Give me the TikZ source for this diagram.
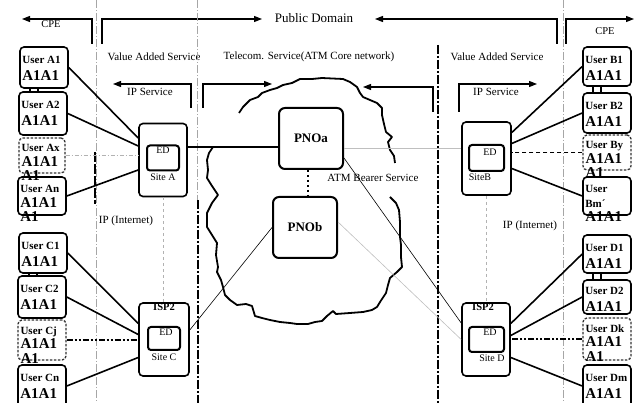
\documentclass[tikz,border=0pt]{standalone}
\usepackage{fontspec}
\setmainfont{Liberation Serif}
\usetikzlibrary{arrows.meta,positioning}
\newcommand{\ulbl}[1]{{\fontsize{11}{12}\selectfont #1}}

\begin{document}
\begin{tikzpicture}[
  x=1pt, y=-1pt,
  >={Triangle[length=8pt,width=6pt]},
  userbox/.style={draw,line width=1.6pt,rounded corners=4pt,minimum width=48pt,
                  minimum height=40pt,inner sep=0pt},
  userdot/.style={userbox,line width=1.3pt,dash pattern=on 2.5pt off 1.5pt,draw=black!80},
  utxt/.style={anchor=north west,xshift=3pt,yshift=-10pt,inner sep=0pt,align=left,
               minimum width=0pt,minimum height=0pt,
               font=\bfseries\fontsize{15}{16.5}\selectfont},
  utxtiii/.style={utxt,yshift=3pt,font=\bfseries\fontsize{15}{14.5}\selectfont},
  sitebox/.style={draw,line width=1.6pt,rounded corners=4pt,minimum width=48pt,
                  minimum height=73pt},
  edbox/.style={draw,line width=2pt,rounded corners=3pt,minimum width=32pt,
                minimum height=25pt},
  pnobox/.style={draw,line width=2pt,rounded corners=6pt,minimum width=64pt,
                 minimum height=61pt,font=\bfseries\fontsize{13}{15}\selectfont},
  lbl/.style={font=\fontsize{11}{13}\selectfont,inner sep=1pt},
  stxt/.style={font=\fontsize{10}{12}\selectfont,inner sep=0pt},
  isptxt/.style={font=\bfseries\fontsize{10.5}{12}\selectfont,inner sep=0pt},
  bracket/.style={->,line width=1.2pt},
  uline/.style={line width=1.6pt},
  thinline/.style={line width=0.6pt},
  greyline/.style={line width=0.6pt,gray!50},
  lightdash/.style={line width=0.6pt,gray!60,dash pattern=on 4pt off 2pt on 1pt off 2pt},
  divthin/.style={line width=0.5pt,gray!70,dash pattern=on 8pt off 2pt on 1pt off 2pt},
  divthick/.style={line width=2.2pt,dash pattern=on 9pt off 2pt on 2pt off 2pt},
  dashdot/.style={line width=2pt,dash pattern=on 6pt off 2pt on 2pt off 2pt on 2pt off 2pt},
  cloudline/.style={line width=1.8pt,line join=round},
]
\useasboundingbox (0,0) rectangle (641,403);

% domain brackets
\draw[bracket] (92,44) -- (92,19) -- (22,19);
\draw[bracket] (102,44) -- (102,19) -- (262,19);
\draw[bracket] (557,44) -- (557,19) -- (375,19);
\draw[bracket] (566,44) -- (566,19) -- (634,19);
\draw[bracket] (191,108) -- (191,84) -- (113,84);
\draw[bracket] (203,108) -- (203,84) -- (272,84);
\draw[bracket] (433,112) -- (433,87) -- (363,87);
\draw[bracket] (459,112) -- (459,84) -- (537,84);

\node[lbl,font=\fontsize{10.5}{12}\selectfont] (tCPEl) at (51,24) {CPE};
\node[lbl,font=\fontsize{10.5}{12}\selectfont] (tCPEr) at (605,31) {CPE};
\node[lbl,font=\fontsize{13}{15}\selectfont] (tPub) at (314,18) {Public Domain};
\node[lbl] (tVASl) at (154,57) {Value Added Service};
\node[lbl] (tTel) at (309,57) {Telecom. Service(ATM Core network)};
\node[lbl] (tVASr) at (497,57) {Value Added Service};
\node[lbl] (tIPSl) at (150,92) {IP Service};
\node[lbl] (tIPSr) at (496,92) {IP Service};
\node[lbl] (tIPl) at (126,221) {IP (Internet)};
\node[lbl] (tIPr) at (530,226) {IP (Internet)};
\node[lbl] (tATM) at (373,178) {ATM Bearer Service};

% domain borders
\draw[divthin] (96,0) -- (96,403);
\draw[line width=2pt,dash pattern=on 10pt off 2pt] (95,152) -- (95,204);
\draw[divthin] (197,0) -- (197,200);
\draw[divthick] (198,200) -- (198,403);
\draw[divthick] (438,45) -- (438,403);
\draw[divthin] (563,0) -- (563,403);

% ATM core cloud
\draw[cloudline] (239,113) -- (243,107) -- (250,100) -- (258,97) -- (262,93)
  -- (270,90) -- (277,88) -- (283,85) -- (292,83) -- (300,79) -- (312,79)
  -- (322,78) -- (343,79) -- (350,82) -- (357,87) -- (360,93) -- (363,97)
  -- (370,100) -- (377,103) -- (382,108) -- (382,115) -- (384,124) -- (386,132)
  -- (392,137) -- (388,142) -- (390,150) -- (394,156) -- (395,163);
\draw[cloudline] (213,147) -- (209,153) -- (207,160) -- (208,170) -- (207,178)
  -- (212,186) -- (218,195) -- (212,203) -- (207,213) -- (207,227) -- (212,235)
  -- (217,243) -- (216,255) -- (218,267) -- (217,272) -- (221,280) -- (223,287)
  -- (225,295) -- (230,300) -- (237,305) -- (246,304) -- (252,306) -- (255,316)
  -- (262,318) -- (270,320) -- (280,322) -- (290,323) -- (297,324) -- (308,324)
  -- (315,322) -- (322,321) -- (327,316) -- (333,311) -- (336,314) -- (350,313)
  -- (363,312) -- (372,310) -- (377,307) -- (380,302) -- (386,293) -- (388,285)
  -- (390,278) -- (397,272) -- (402,267) -- (401,257) -- (401,245) -- (400,237)
  -- (400,222) -- (399,210) -- (396,203) -- (390,197);

% core nodes
\node[pnobox] (pA) at (311,138.5) {PNOa};
\node[pnobox] (pB) at (305,227.5) {PNOb};

% sites
\node[sitebox] (sA) at (163,160) {};
\node[edbox] (edA) at (163,158) {};
\node[stxt,anchor=north,yshift=-2pt] (tEDa) at (edA.north) {ED};
\node[stxt,below=2pt of edA] (tSA) {Site A};

\node[sitebox,minimum width=50pt] (sC) at (164,339.5) {};
\node[edbox,minimum height=23pt] (edC) at (164,338.5) {};
\node[isptxt] (tISPc) at (164,307) {ISP2};
\node[stxt] (tEDc) at (166,332) {ED};
\node[stxt,below=3pt of edC] (tSC) {Site C};

\node[sitebox,minimum width=49pt] (sB) at (486.5,158.5) {};
\node[edbox,minimum width=35pt,minimum height=26pt] (edB) at (486.5,158) {};
\node[stxt] (tEDb) at (490,152) {ED};
\node[stxt] (tSB) at (480,177) {SiteB};

\node[sitebox] (sD) at (486,339.5) {};
\node[edbox,minimum width=35pt] (edD) at (486.5,339.5) {};
\node[isptxt] (tISPd) at (483,307) {ISP2};
\node[stxt] (tEDd) at (490,332) {ED};
\node[stxt] (tSD) at (492,358) {Site D};

% users, left
\node[userbox,minimum height=41pt,label={[utxt]north west:{\ulbl{User A1}\\A1A1}}] (uA1) at (44,67.5) {};
\node[userbox,minimum height=43pt,label={[utxt]north west:{\ulbl{User A2}\\A1A1}}] (uA2) at (43,113.5) {};
\node[userdot,minimum width=46pt,minimum height=35pt,label={[utxtiii]north west:{\ulbl{User Ax}\\A1A1\\A1}}] (uAx) at (42,155.5) {};
\node[userbox,minimum height=38pt,label={[utxtiii,yshift=-2pt]north west:{\ulbl{User An}\\A1A1\\A1}}] (uAn) at (42,196) {};
\node[userbox,label={[utxt]north west:{\ulbl{User C1}\\A1A1}}] (uC1) at (43,253) {};
\node[userbox,minimum height=42pt,label={[utxt]north west:{\ulbl{User C2}\\A1A1}}] (uC2) at (42,297) {};
\node[userdot,label={[utxtiii]north west:{\ulbl{User Cj}\\A1A1\\A1}}] (uCj) at (42,340) {};
\node[userbox,minimum height=42pt,label={[utxt]north west:{\ulbl{User Cn}\\A1A1}}] (uCn) at (42,386) {};

% users, right
\node[userbox,minimum height=39pt,label={[utxt]north west:{\ulbl{User B1}\\A1A1}}] (uB1) at (607,66.5) {};
\node[userbox,label={[utxt]north west:{\ulbl{User B2}\\A1A1}}] (uB2) at (607,113) {};
\node[userdot,minimum height=35pt,label={[utxtiii]north west:{\ulbl{User By}\\A1A1\\A1}}] (uBy) at (607,152.5) {};
\node[userbox,minimum height=38pt,label={[utxtiii,yshift=-2pt]north west:{\ulbl{User}\\\ulbl{Bm´}\\A1A1}}] (uBm) at (607,196) {};
\node[userbox,minimum height=38pt,label={[utxt]north west:{\ulbl{User D1}\\A1A1}}] (uD1) at (607,254) {};
\node[userbox,minimum height=34pt,label={[utxt,yshift=2pt]north west:{\ulbl{User D2}\\A1A1}}] (uD2) at (607,297) {};
\node[userdot,minimum height=42pt,label={[utxtiii]north west:{\ulbl{User Dk}\\A1A1\\A1}}] (uDk) at (607,339) {};
\node[userbox,minimum height=42pt,label={[utxt]north west:{\ulbl{User Dm}\\A1A1}}] (uDm) at (607,386) {};

% links between stacked users
\foreach \u/\v in {uA1/uA2,uC1/uC2,uB1/uB2,uD1/uD2}{
  \draw[line width=1.4pt] ([xshift=-14pt]\u.south) -- ([xshift=-14pt]\u.south |- \v.north);
  \draw[line width=1.4pt] ([xshift=-6pt]\u.south) -- ([xshift=-6pt]\u.south |- \v.north);
}

% access lines
\draw[uline] (uA1.east) -- ([yshift=22pt]sA.west);
\draw[uline] (uA2.east) -- ([yshift=14pt]sA.west);
\draw[lightdash] (uAx.east) -- (uAx.east -| sA.west);
\draw[uline] (uAn.east) -- ([yshift=-10pt]sA.west);
\draw[uline] (uC1.east) -- ([yshift=16pt]sC.west);
\draw[uline] (uC2.east) -- ([yshift=5pt]sC.west);
\draw[dashdot] (uCj.east) -- (uCj.east -| sC.west);
\draw[uline] (uCn.east) -- ([yshift=-18pt]sC.west);

\draw[uline] (uB1.west) -- ([yshift=26pt]sB.east);
\draw[uline] (uB2.west) -- ([yshift=15pt]sB.east);
\draw[line width=0.8pt,dash pattern=on 4pt off 3pt] (uBy.west) -- (uBy.west -| sB.east);
\draw[uline] (uBm.west) -- ([yshift=-10pt]sB.east);
\draw[uline] (uD1.west) -- ([yshift=16pt]sD.east);
\draw[uline] (uD2.west) -- ([yshift=4pt]sD.east);
\draw[dashdot] (uDk.west) -- (uDk.west -| sD.east);
\draw[uline] (uDm.west) -- ([yshift=-18pt]sD.east);

% site and core links
\draw[line width=0.5pt,gray!60,dashed] (sA.south) -- (sA.south |- sC.north);
\draw[line width=0.5pt,gray!60,dashed] (sB.south) -- (sB.south |- sD.north);
\draw[line width=2pt] ([yshift=13pt]sA.east) -- ([yshift=13pt]sA.east -| pA.west);
\draw[greyline] ([yshift=10.5pt]sB.west) -- ([yshift=10.5pt]sB.west -| pA.east);
\draw[line width=2.2pt,dash pattern=on 2.5pt off 2.5pt] ([xshift=-3pt]pA.south) -- ([xshift=-3pt]pA.south |- pB.north);
\draw[thinline] (pB.west) -- ([yshift=9.5pt]sC.east);
\draw[thinline] ([yshift=-19.5pt]pA.east) -- ([yshift=16.5pt]sD.west);
\draw[greyline] ([yshift=5.5pt]pB.east) -- (sD.west);
\end{tikzpicture}
\end{document}
